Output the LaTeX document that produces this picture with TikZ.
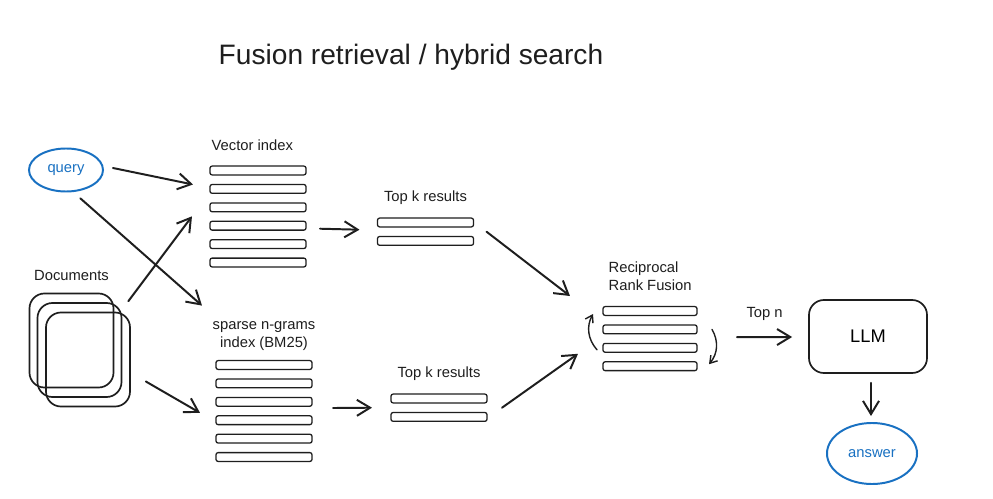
\documentclass[tikz,border=0pt]{standalone}
\usepackage{fontspec}
\setmainfont{Liberation Sans}
\usetikzlibrary{arrows.meta, shapes.geometric, positioning, calc}
\definecolor{ink}{RGB}{30,30,30}
\definecolor{skblue}{RGB}{25,113,194}

\begin{document}
\begin{tikzpicture}[
    x=0.025cm, y=-0.025cm,
    node distance=0.24cm,
    bar/.style={draw=ink, line width=0.9pt, rounded corners=1.5pt, outer sep=0pt,
                minimum width=2.4cm, minimum height=0.22cm, inner sep=0pt},
    lbl/.style={text=ink, inner sep=1pt, font=\fontsize{10.5}{13}\selectfont},
    blob/.style={ellipse, draw=skblue, line width=1.4pt, text=skblue,
                 inner sep=0pt, font=\fontsize{10.5}{13}\selectfont},
    doc/.style={draw=ink, line width=1.2pt, rounded corners=0.375cm,
                minimum width=2.1cm, minimum height=2.35cm},
    arr/.style={-{Straight Barb[length=0.33cm, width=0.4cm]}, line width=1.4pt,
                ink, line cap=round, line join=round},
    turn/.style={-{Straight Barb[length=0.17cm, width=0.22cm]}, line width=1pt,
                 ink, line cap=round}
  ]
  \fill[white] (0,0) rectangle (993,499);
  \useasboundingbox (0,0) rectangle (993,499);

  \node[text=ink, font=\fontsize{20}{24}\selectfont] (title) at (411,57)
    {Fusion retrieval / hybrid search};

  % inputs
  \node[blob, minimum width=1.85cm, minimum height=1.075cm] (query) at (66,170) {query};
  \node[doc] (doc1) at (71.5,340.5) {};
  \node[doc] (doc2) at (79.5,350) {};
  \node[doc] (doc3) at (88,359.5) {};
  \node[lbl, above=0.26cm of doc1] (doclbl) {Documents};

  % vector index
  \node[bar] (vec1) at (258,170.5) {};
  \node[bar, below=of vec1] (vec2) {};
  \node[bar, below=of vec2] (vec3) {};
  \node[bar, below=of vec3] (vec4) {};
  \node[bar, below=of vec4] (vec5) {};
  \node[bar, below=of vec5] (vec6) {};
  \node[lbl, above right=0.35cm and 0cm of vec1.north west] (veclbl) {Vector index};

  % sparse index
  \node[bar] (sp1) at (264,365) {};
  \node[bar, below=of sp1] (sp2) {};
  \node[bar, below=of sp2] (sp3) {};
  \node[bar, below=of sp3] (sp4) {};
  \node[bar, below=of sp4] (sp5) {};
  \node[bar, below=of sp5] (sp6) {};
  \node[lbl, align=center, above=0.2cm of sp1] (splbl) {sparse n-grams\\index (BM25)};

  % top k results
  \node[bar] (tk1a) at (425.5,222.5) {};
  \node[bar, below=of tk1a] (tk1b) {};
  \node[lbl, above=0.3cm of tk1a] (tk1lbl) {Top k results};
  \node[bar] (tk2a) at (439,398.5) {};
  \node[bar, below=of tk2a] (tk2b) {};
  \node[lbl, above=0.3cm of tk2a] (tk2lbl) {Top k results};

  % fusion
  \node[bar, minimum width=2.35cm] (rrf1) at (650,311) {};
  \node[bar, minimum width=2.35cm, below=of rrf1] (rrf2) {};
  \node[bar, minimum width=2.35cm, below=of rrf2] (rrf3) {};
  \node[bar, minimum width=2.35cm, below=of rrf3] (rrf4) {};
  \node[lbl, align=left, above right=0.35cm and 0.1cm of rrf1.north west]
    (rrflbl) {Reciprocal\\Rank Fusion};

  % output
  \node[draw=ink, line width=1.2pt, rounded corners=0.375cm, minimum width=2.95cm,
        minimum height=1.825cm, font=\fontsize{13}{15}\selectfont] (llm) at (868,336.5) {LLM};
  \node[blob, minimum width=2.25cm, minimum height=1.525cm] (answer) at (872,453.5) {answer};

  \draw[arr] ($(query.east)+(9,-2)$) -- ($(vec2.north west)+(-17,0)$);
  \draw[arr] ($(query.-60)+(2,7)$) -- ($(sp1.north west)+(-14,-55)$);
  \draw[arr] ($(doc2.north east)+(6,-1)$) -- ($(vec4.north west)+(-18,-5)$);
  \draw[arr] ($(doc3.east)+(15,22)$) -- ($(sp4.north west)+(-16,-3)$);
  \draw[arr] ($(vec4.east)+(14,3)$) -- ($(tk1a.west)!0.5!(tk1b.west)+(-18,-2)$);
  \draw[arr] ($(sp3.east)!0.5!(sp4.east)+(21,-3)$) -- ($(tk2a.west)!0.5!(tk2b.west)+(-19,0)$);
  \draw[arr] ($(tk1a.east)!0.5!(tk1b.east)+(13,0)$) -- ($(rrf1.west)+(-33,-15)$);
  \draw[arr] ($(tk2a.east)!0.5!(tk2b.east)+(15,0)$) -- ($(rrf3.west)+(-25,6)$);
  \draw[turn] ($(rrf3.west)+(-6,2)$) to[bend left=35] ($(rrf1.west)+(-10,3)$);
  \draw[turn] ($(rrf2.east)+(15,0)$) to[bend left=35] ($(rrf4.east)+(12,-2)$);
  \draw[arr] ($(rrf2.east)!0.5!(rrf3.east)+(40,-1.5)$) --
    node[lbl, above=10pt] (topn) {Top n} ($(llm.west)+(-16,0.5)$);
  \draw[arr] ($(llm.south)+(3,9)$) -- ($(answer.north)+(-1,-6)$);
\end{tikzpicture}
\end{document}
